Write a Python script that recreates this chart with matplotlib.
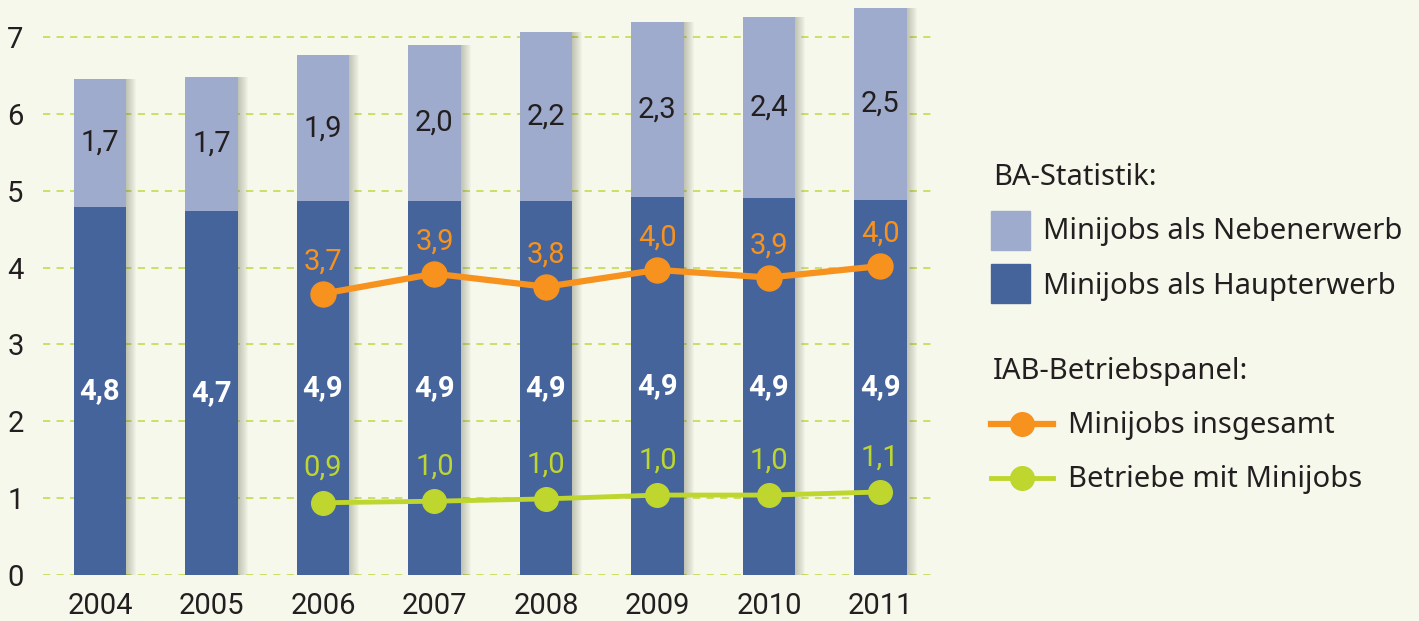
import matplotlib
matplotlib.use("Agg")
import matplotlib.pyplot as plt
from matplotlib.patches import Rectangle
from matplotlib.lines import Line2D
import numpy as np

plt.rcParams['font.family'] = ['Roboto', 'DejaVu Sans']

years = ['2004', '2005', '2006', '2007', '2008', '2009', '2010', '2011']
haupterwerb = [4.79, 4.74, 4.86, 4.87, 4.87, 4.92, 4.90, 4.88]
nebenerwerb = [1.66, 1.74, 1.90, 2.03, 2.19, 2.27, 2.36, 2.50]

line_years = ['2006', '2007', '2008', '2009', '2010', '2011']
insgesamt = [3.66, 3.92, 3.75, 3.97, 3.87, 4.02]
betriebe = [0.94, 0.96, 0.99, 1.04, 1.04, 1.08]

bg = '#f6f8eb'
dark = '#44649b'
light = '#9eabcd'
orange = '#f7921e'
green = '#bfd62f'
txt = '#231f20'
gridc = '#c9dd5c'
legfont = ['Noto Sans', 'DejaVu Sans']

fig = plt.figure(figsize=(14.19, 6.21), dpi=100, facecolor=bg)
ax = fig.add_axes([43/1419, 46/621, 892/1419, 572.6/621])
ax.set_facecolor(bg)

x = np.arange(len(years))
xl = [years.index(y) for y in line_years]
w = 0.47
px = 1/111.5
tot = np.array(haupterwerb) + np.array(nebenerwerb)

# soft shadow right of the bars
for k in range(1, 11):
    ax.bar(x + k*px, tot, w, color='#4a4a30', alpha=0.03, zorder=1, linewidth=0)

ax.bar(x, haupterwerb, w, color=dark, zorder=2, linewidth=0)
ax.bar(x, nebenerwerb, w, bottom=haupterwerb, color=light, zorder=2, linewidth=0)

for i in range(len(years)):
    ax.text(x[i], haupterwerb[i]/2, f'{haupterwerb[i]:.1f}'.replace('.', ','),
            ha='center', va='center', color='white', fontsize=21, fontweight='bold', zorder=5)
    ax.text(x[i], haupterwerb[i] + nebenerwerb[i]/2, f'{nebenerwerb[i]:.1f}'.replace('.', ','),
            ha='center', va='center', color=txt, fontsize=21, zorder=5)

ax.plot(xl, insgesamt, color=orange, lw=4.5, marker='o', ms=18, zorder=4)
ax.plot(xl, betriebe, color=green, lw=3.5, marker='o', ms=17, zorder=4)
for xi, v in zip(xl, insgesamt):
    ax.annotate(f'{v:.1f}'.replace('.', ','), (xi, v), xytext=(0, 23), textcoords='offset points',
                ha='center', va='center', color=orange, fontsize=21, zorder=5)
for xi, v in zip(xl, betriebe):
    ax.annotate(f'{v:.1f}'.replace('.', ','), (xi, v), xytext=(0, 25), textcoords='offset points',
                ha='center', va='center', color=green, fontsize=21, zorder=5)

ax.set_xlim(-0.511, 7.49)
ax.set_ylim(0, 7.45)
ax.set_yticks(range(8))
ax.set_xticks(x)
ax.set_xticklabels(years)
ax.yaxis.grid(True, color=gridc, linestyle=(0, (4, 3.5)), linewidth=1.3, zorder=0)
ax.set_axisbelow(True)
for s in ax.spines.values():
    s.set_visible(False)
ax.tick_params(axis='both', length=0, labelsize=21, colors=txt)
ax.tick_params(axis='y', pad=14)
ax.tick_params(axis='x', pad=12)

# legend drawn by hand on the right
def fx(p):
    return p/1419
def fy(p):
    return 1 - p/621

fig.text(fx(993), fy(178), 'BA-Statistik:', fontsize=21, color=txt, va='center', ha='left', family=legfont)
fig.patches.append(Rectangle((fx(991), fy(250)), 39/1419, 39/621, color=light, transform=fig.transFigure))
fig.text(fx(1043), fy(232), 'Minijobs als Nebenerwerb', fontsize=21, color=txt, va='center', ha='left', family=legfont)
fig.patches.append(Rectangle((fx(991), fy(303)), 39/1419, 39/621, color=dark, transform=fig.transFigure))
fig.text(fx(1043), fy(286), 'Minijobs als Haupterwerb', fontsize=21, color=txt, va='center', ha='left', family=legfont)

fig.text(fx(993), fy(372), 'IAB-Betriebspanel:', fontsize=21, color=txt, va='center', ha='left', family=legfont)
fig.lines.append(Line2D([fx(991), fx(1053)], [fy(424), fy(424)], color=orange, lw=4.5,
                        transform=fig.transFigure))
fig.lines.append(Line2D([fx(1022)], [fy(424)], color=orange, marker='o', ms=17,
                        transform=fig.transFigure))
fig.text(fx(1068), fy(426), 'Minijobs insgesamt', fontsize=21, color=txt, va='center', ha='left', family=legfont)
fig.lines.append(Line2D([fx(991), fx(1053)], [fy(478), fy(478)], color=green, lw=3.5,
                        transform=fig.transFigure))
fig.lines.append(Line2D([fx(1022)], [fy(478)], color=green, marker='o', ms=17,
                        transform=fig.transFigure))
fig.text(fx(1068), fy(480), 'Betriebe mit Minijobs', fontsize=21, color=txt, va='center', ha='left', family=legfont)

fig.savefig('out.png', dpi=100, facecolor=bg)
